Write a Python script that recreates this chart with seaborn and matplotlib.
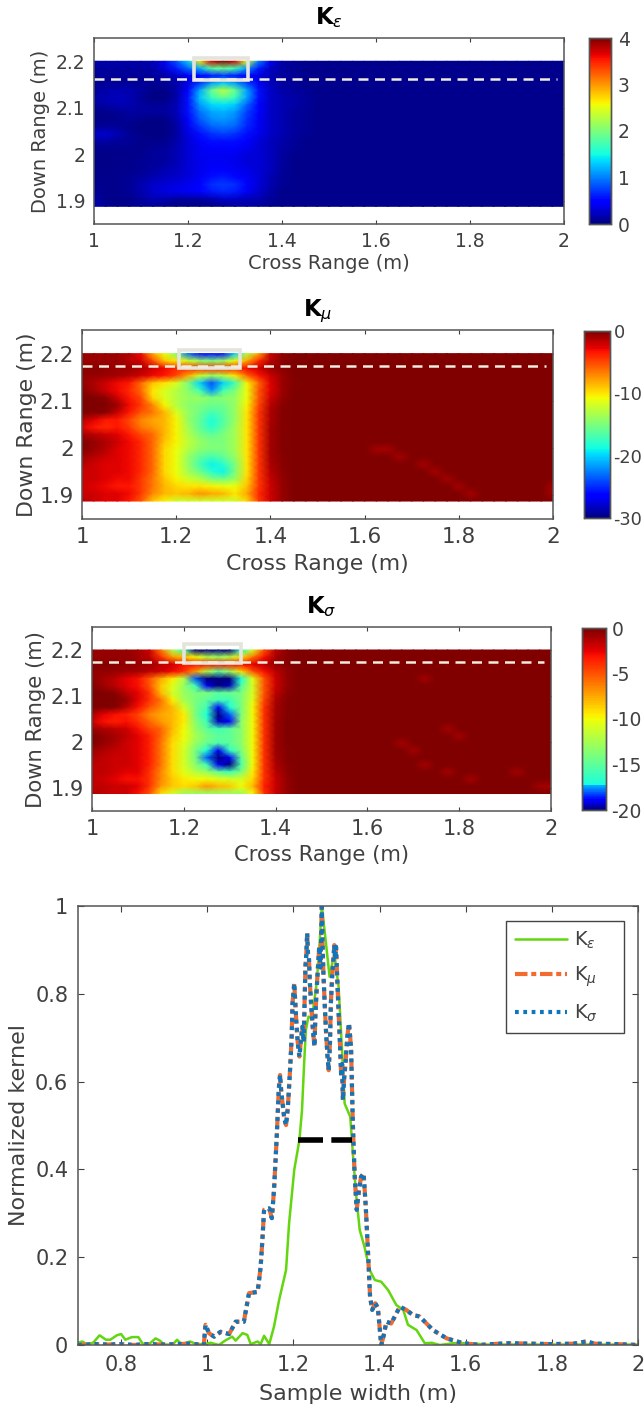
import numpy as np
import seaborn as sns
import matplotlib
matplotlib.use('Agg')
import matplotlib.pyplot as plt
from matplotlib.colors import ListedColormap
from matplotlib.patches import Rectangle
from matplotlib.transforms import Affine2D

sns.set_style('white')

# grid: cross range 1.0 to 1.5 by 0.025, down range 2.2 to 1.888 in 21 rows
K_eps_left = [
    [.15,.15,.15,.15,.15,.2,.4,.8,1.3,2.7,3.7,4.0,3.7,2.5,1.0,.4,.15,.08,.05,.05,.05],
    [.12,.12,.12,.12,.12,.15,.3,.6,.9,1.2,1.8,1.9,1.7,1.1,.6,.25,.12,.08,.05,.05,.05],
    [.08,.08,.08,.08,.08,.1,.15,.25,.4,.5,.6,.7,.6,.5,.35,.2,.12,.08,.05,.05,.05],
    [.08,.08,.08,.08,.08,.08,.08,.15,.35,.7,1.1,1.3,1.1,.75,.4,.22,.12,.08,.05,.05,.05],
    [.1,.15,.18,.18,.12,.04,.04,.15,.45,1.15,1.9,2.3,1.9,1.15,.55,.25,.15,.12,.08,.05,.05],
    [.15,.2,.22,.18,.08,.03,.03,.15,.55,1.25,1.7,1.9,1.7,1.15,.55,.25,.18,.15,.1,.06,.05],
    [.12,.15,.18,.18,.12,.08,.08,.2,.55,1.1,1.35,1.4,1.3,.9,.45,.25,.18,.15,.1,.06,.05],
    [.04,.05,.08,.12,.12,.12,.12,.2,.55,.95,1.15,1.2,1.1,.75,.45,.25,.18,.12,.08,.05,.05],
    [.04,.04,.05,.08,.05,.03,.04,.15,.45,.85,1.05,1.1,1.0,.7,.42,.25,.18,.12,.08,.05,.05],
    [.08,.1,.08,.05,.03,.03,.03,.12,.4,.7,.9,.95,.9,.65,.42,.25,.18,.12,.08,.05,.05],
    [.25,.28,.18,.08,.04,.03,.03,.12,.35,.55,.7,.75,.7,.55,.38,.25,.18,.12,.08,.05,.05],
    [.12,.15,.1,.08,.05,.04,.06,.15,.3,.45,.55,.55,.55,.45,.32,.22,.15,.1,.06,.05,.05],
    [.05,.05,.05,.05,.05,.08,.1,.18,.3,.4,.45,.45,.45,.38,.3,.22,.14,.08,.05,.05,.05],
    [.04,.04,.05,.05,.05,.1,.12,.18,.3,.4,.4,.4,.4,.32,.3,.22,.12,.06,.05,.05,.05],
    [.04,.04,.05,.05,.08,.1,.12,.2,.3,.38,.42,.42,.38,.32,.3,.22,.12,.05,.05,.05,.05],
    [.04,.04,.05,.05,.08,.12,.18,.22,.3,.38,.45,.48,.42,.36,.3,.22,.1,.05,.05,.05,.05],
    [.05,.05,.05,.08,.12,.18,.22,.28,.32,.42,.55,.6,.52,.42,.32,.18,.08,.05,.05,.05,.05],
    [.05,.05,.05,.08,.18,.26,.3,.34,.4,.5,.68,.72,.68,.5,.32,.18,.08,.05,.05,.05,.05],
    [.08,.05,.05,.08,.16,.28,.34,.38,.42,.5,.58,.65,.6,.42,.28,.14,.06,.05,.05,.05,.05],
    [.15,.05,.04,.05,.12,.18,.18,.12,.12,.12,.18,.25,.25,.2,.18,.1,.05,.05,.05,.05,.05],
    [.2,.08,.04,.05,.08,.08,.06,.03,.02,.02,.03,.06,.1,.14,.1,.06,.05,.05,.05,.05,.05],
]
K_mu_left = [
    [-.8,-.8,-.8,-.8,-1.5,-3,-8,-11,-15,-23,-26,-26,-26,-20,-13,-8,-2,-.4,0,0,0],
    [-.8,-.8,-.8,-.8,-1.5,-2,-5,-9,-10,-12,-14,-15,-14,-11,-8,-4,-1.5,-.4,0,0,0],
    [-.3,-.3,-.5,-.8,-.8,-1.2,-2,-3,-4,-4,-4,-4,-4,-4,-3,-2,-.8,-.3,0,0,0],
    [-.6,-.6,-.8,-1,-1.5,-2,-3,-3.5,-5,-8,-12,-14,-13,-10,-6,-3.5,-2,-.8,-.1,0,0],
    [-.6,-1.2,-2,-3,-3.5,-6,-9,-10,-11.5,-15,-20,-24,-20,-17,-10.5,-6,-2.5,-.8,-.2,0,0],
    [-.3,-1,-2,-3,-4,-6,-10,-11.5,-13,-14.5,-17,-22,-17,-15,-11,-5.5,-2.5,-.8,-.1,0,0],
    [0,-.1,-.4,-2,-3.5,-5,-9.5,-11.5,-13,-14,-14,-15,-14.5,-14,-11,-5.5,-2,-.6,0,0,0],
    [0,0,-.1,-.8,-3,-4.5,-7,-10.5,-13,-14.5,-15,-15.5,-15.5,-14,-10.5,-5,-1.5,-.3,0,0,0],
    [0,0,-.3,-1.8,-3.5,-5.5,-6.5,-8.5,-11.5,-14,-15.5,-17,-16,-14,-10,-4.5,-1.2,-.2,0,0,0],
    [-1.5,-2.5,-3.5,-3.5,-5,-7,-8,-8.5,-10.5,-14,-16,-18.5,-16.5,-14,-10,-4.5,-1.2,-.2,0,0,0],
    [-2.5,-3.5,-4,-3.5,-4.5,-6.5,-7.5,-8.5,-10.5,-13.5,-16,-18,-16,-13.5,-10,-4.5,-1,-.2,0,0,0],
    [-1,-1.5,-2,-2.5,-3.5,-5,-6,-8.5,-10.5,-13,-15,-16,-15,-13.5,-10,-4.5,-1,-.2,0,0,0],
    [-.2,-.6,-1.2,-2,-3,-4,-6,-9,-10.5,-12.5,-14,-15,-15,-13.5,-10,-4.5,-1,-.2,0,0,0],
    [-.2,-.8,-1.5,-2.5,-3,-4,-6,-9.5,-11,-13,-14.5,-15,-15,-13.5,-10,-4.5,-1,-.2,0,0,0],
    [-1,-1.5,-2,-2.5,-3,-4,-6,-9.5,-11,-14,-16,-17,-16,-14,-10,-4.5,-1,-.3,0,0,0],
    [-1.5,-2,-2.5,-2.5,-3,-4,-6,-9.5,-11,-14,-17,-19,-18,-15,-10,-4.5,-1.2,-.3,0,0,0],
    [-2,-2,-2.5,-2.5,-3,-4,-6,-9.5,-11,-13.5,-15.5,-18,-19,-15,-10,-4.5,-1.5,-.4,0,0,0],
    [-2,-2,-2.5,-3,-3,-4.5,-6.5,-9,-10.5,-12,-13,-15,-15.5,-14,-9.5,-4.5,-1.8,-.5,0,0,0],
    [-2,-2.5,-3,-3.5,-3.5,-4.5,-6.5,-8.5,-9.5,-10,-10,-10.5,-11,-11,-9,-4.5,-2,-.6,0,0,0],
    [-2,-2,-2.5,-2.5,-3,-4.5,-7,-8.5,-9,-8.5,-7.5,-8,-8.5,-10,-8,-4,-2,-.6,0,0,0],
    [-1.5,-2,-2.5,-2.5,-3.5,-5.5,-9,-10.5,-12,-12,-12,-12,-12,-12,-9.5,-4.5,-2,-.6,0,0,0],
]
K_sigma_left = [
    [-.6,-.6,-.6,-.6,-1,-2,-6,-12,-16,-20,-20,-20,-20,-17,-11,-5,-1.5,-.3,0,0,0],
    [-.6,-.6,-.6,-.6,-1,-1.5,-4,-7,-8,-10,-12,-13,-12,-9,-6,-3,-1,-.3,0,0,0],
    [-.2,-.2,-.3,-.5,-.6,-.8,-1.5,-2,-3,-3,-3,-3,-3,-3,-2.5,-1.5,-.6,-.2,0,0,0],
    [-.5,-.5,-.6,-.8,-1,-1.5,-2,-2.8,-4,-7,-12,-15,-13,-9,-5,-3,-1.5,-.5,0,0,0],
    [-.5,-1,-1.5,-2.5,-3,-5,-7.5,-9.5,-12,-18,-20,-20,-20,-17,-10.5,-5,-2,-.5,-.1,0,0],
    [-.2,-.8,-1.5,-2.5,-3,-5,-8.5,-10.5,-13,-16,-19,-20,-19.5,-15.5,-11,-5,-2,-.5,0,0,0],
    [0,-.1,-.3,-1.5,-2.5,-4,-8,-11,-13,-14,-14,-15,-14.5,-14,-11,-5,-1.5,-.4,0,0,0],
    [0,0,-.1,-.6,-2.5,-4,-6,-9.5,-12.5,-14,-15,-16,-16,-14,-10.5,-4.5,-1.2,-.2,0,0,0],
    [0,0,-.2,-1.5,-3,-5,-6.5,-8,-11,-14,-16,-19,-17,-14,-10,-4,-1,-.2,0,0,0],
    [-1.2,-2.5,-3,-3.5,-4.5,-6.5,-7.5,-8,-9.5,-14,-17,-20,-18,-14,-10,-4,-1,-.2,0,0,0],
    [-2,-3,-3.5,-3,-4,-5.5,-7,-8,-9.5,-13.5,-16,-19.5,-19,-13.5,-10,-4,-.8,-.1,0,0,0],
    [-.8,-1.2,-1.6,-2,-3,-4.5,-5.5,-8,-10,-13,-15,-16,-15,-13.5,-10,-4,-.8,-.1,0,0,0],
    [-.1,-.5,-1,-1.6,-2.5,-3.5,-5.5,-8.5,-10,-12.5,-14,-15,-15,-13.5,-10,-4,-.8,-.1,0,0,0],
    [-.1,-.6,-1.2,-2,-2.5,-3.5,-6,-9,-10.5,-13,-14.5,-15.5,-15,-13.5,-10,-4,-.8,-.1,0,0,0],
    [-.8,-1.2,-1.6,-2,-2.5,-3.5,-6,-9,-11,-14,-17,-19,-16.5,-14,-10,-4,-.8,-.2,0,0,0],
    [-1.2,-1.6,-2,-2,-2.5,-3.5,-6,-9,-11,-14,-18,-20,-19,-15,-10,-4,-1,-.2,0,0,0],
    [-1.6,-1.6,-2,-2,-2.5,-3.5,-6,-9,-11,-13.5,-16,-19,-20,-15.5,-10,-4,-1.2,-.3,0,0,0],
    [-1.6,-1.6,-2,-2.5,-2.5,-4,-6.5,-9,-10.5,-12,-13,-15,-16,-14,-9.5,-4,-1.5,-.4,0,0,0],
    [-1.6,-2,-2.5,-3,-3,-4,-6.5,-8.5,-9.5,-10,-10,-10.5,-11,-11,-9,-4,-1.8,-.5,0,0,0],
    [-1.6,-1.6,-2,-2,-2.5,-4,-7,-8.5,-9,-8.5,-7,-8,-8.5,-10,-8,-3.5,-1.8,-.5,0,0,0],
    [-1.2,-1.6,-2,-2,-3,-5,-9,-11,-13,-13,-13,-13,-13,-13,-10,-4,-1.8,-.5,0,0,0],
]

# line plot
x_eps = [.70,.71,.72,.735,.75,.765,.775,.79,.80,.81,.825,.84,.85,.865,.88,.89,.90,.92,.93,.94,.96,.975,
         .992,1.008,1.027,1.043,1.058,1.066,1.082,1.093,1.101,1.117,1.124,1.132,1.144,1.155,1.167,1.183,
         1.190,1.202,1.214,1.220,1.225,1.229,1.235,1.243,1.253,1.259,1.266,1.274,1.284,1.295,1.305,1.315,
         1.319,1.332,1.338,1.346,1.354,1.365,1.377,1.389,1.404,1.420,1.439,1.455,1.466,1.486,1.505,1.521,
         1.540,1.571,1.610,1.65,2.0]
y_eps = [.005,.008,.002,.005,.022,.012,.012,.022,.025,.012,.018,.018,.003,.002,.015,.01,.001,.001,.012,.002,.008,.002,
         .002,.005,0,.011,.019,.010,.027,.023,.002,.008,.002,.021,.002,.042,.103,.171,
         .277,.399,.467,.535,.642,.718,.748,.744,.816,.885,1,.930,.839,.892,.816,.634,
         .550,.520,.437,.338,.262,.224,.171,.148,.144,.125,.091,.080,.046,.034,.004,.005,
         0,.004,.004,.001,.001]

x_mu = [.70,.74,.77,.80,.83,.86,.90,.93,.96,.992,.996,1.004,1.016,1.031,1.051,1.066,1.085,1.097,1.117,1.124,1.128,
        1.132,1.144,1.150,1.155,1.161,1.166,1.169,1.172,1.175,1.179,1.183,1.187,1.190,1.193,1.196,1.198,1.200,1.202,1.205,1.207,
        1.210,1.214,1.218,1.221,1.224,1.226,1.228,1.230,1.232,1.234,1.236,1.238,1.241,1.243,1.246,1.249,1.251,1.254,1.257,1.260,
        1.263,1.266,1.268,1.270,1.273,1.276,1.279,1.282,1.285,1.287,1.290,1.293,1.295,1.297,1.299,1.302,1.305,1.308,1.311,1.313,
        1.315,1.318,1.321,1.325,1.329,1.332,1.334,1.338,1.342,1.347,1.352,1.357,1.363,1.368,1.373,1.378,1.383,1.390,1.396,1.404,1.409,
        1.416,1.427,1.447,1.462,1.478,1.493,1.524,1.556,1.594,1.633,1.66,1.70,1.75,1.80,1.85,1.88,1.90,1.95,2.0]
y_mu = [0,.002,.001,.002,0,.002,.001,.002,.003,0,.046,.027,.019,.030,.025,.053,.053,.118,.121,.178,.239,
        .308,.311,.289,.353,.467,.581,.615,.575,.550,.515,.501,.540,.588,.640,.702,.778,.800,.824,.770,.733,
        .690,.657,.700,.725,.690,.780,.862,.890,.938,.890,.885,.830,.778,.750,.710,.680,.750,.809,.860,.907,
        .860,.998,.900,.839,.770,.710,.660,.626,.690,.778,.840,.880,.911,.880,.907,.830,.756,.690,.611,.640,
        .558,.610,.642,.700,.733,.700,.672,.505,.391,.308,.350,.383,.391,.315,.216,.110,.080,.095,.085,0,.019,
        .053,.049,.087,.080,.068,.065,.034,.015,.004,0,.002,.004,.003,.002,.003,.008,.003,.002,0]
y_sigma = y_mu

x_fwhm = [1.21, 1.335]
y_fwhm = [.467, .467]

W, H = 644, 1405
fig = plt.figure(figsize=(W / 100, H / 100), dpi=100)

def box(l, t, r, b):
    return [l / W, 1 - b / H, (r - l) / W, (b - t) / H]

jet = plt.get_cmap('jet')
fsig = np.linspace(0, 1, 256)
sigma_cmap = ListedColormap([jet(f / .135 * .3) if f < .135 else jet(.38 + .62 * (f - .135) / .865) for f in fsig])

def streaks(bg, cells):
    right = np.full((21, 20), bg)
    for r, c, v in cells:
        right[r, c] = v
    return right

panels = [
    dict(left=K_eps_left, right=streaks(.05, []), vmin=0, vmax=4, cmap='jet', title=r'$\mathbf{K}_{\epsilon}$',
         ax=(94, 38, 564, 224), cax=(589, 38, 611, 224), cticks=[0, 1, 2, 3, 4], clabels=['0', '1', '2', '3', '4'],
         dash=2.161, rect=(1.212, 2.16, 0.115, 0.048), fs=14, tfs=13.5, cfs=13.5, cpad=5, xpad=2, ypad=4),
    dict(left=K_mu_left, right=streaks(0, [(13, 4, -1.5), (13, 5, -1.5), (14, 6, -1.5), (15, 8, -1.4), (16, 9, -1.5),
                                           (17, 10, -1.5), (18, 11, -1.4), (19, 12, -1), (18, 19, -1.5), (19, 19, -1.5)]),
         vmin=-30, vmax=0, cmap='jet', title=r'$\mathbf{K}_{\mu}$',
         ax=(82, 330, 553, 519), cax=(584, 331, 610, 518), cticks=[-30, -20, -10, 0], clabels=['-30', '-20', '-10', '0'],
         dash=2.174, rect=(1.205, 2.17, 0.13, 0.037), fs=15.8, tfs=15.5, cfs=12.8, cpad=2.5, xpad=5, ypad=2),
    dict(left=K_sigma_left, right=streaks(0, [(4, 8, -1), (4, 9, -.9), (11, 10, -1), (12, 11, -1), (13, 6, -1), (14, 7, -1),
                                              (16, 8, -1), (17, 10, -1), (18, 12, -1), (17, 16, -1), (19, 18, -1.2), (19, 19, -1.2)]),
         vmin=-20, vmax=0, cmap=sigma_cmap, title=r'$\mathbf{K}_{\sigma}$',
         ax=(92, 627, 551, 811), cax=(582, 628, 606, 810), cticks=[-20, -15, -10, -5, 0], clabels=['-20', '-15', '-10', '-5', '0'],
         dash=2.174, rect=(1.2, 2.172, 0.125, 0.04), fs=15.2, tfs=15, cfs=13.5, cpad=4, xpad=4, ypad=3),
]

ink = '#404040'
for p in panels:
    ax = fig.add_axes(box(*p['ax']))
    cax = fig.add_axes(box(*p['cax']))
    grid = np.hstack([np.array(p['left'], dtype=float), p['right']])
    sns.heatmap(grid, ax=ax, cbar_ax=cax, cmap=p['cmap'], vmin=p['vmin'], vmax=p['vmax'],
                xticklabels=False, yticklabels=False, shading='gouraud')
    # heatmap works in cell numbers, so move the mesh onto metres
    mesh = ax.collections[0]
    mesh.set_transform(Affine2D().scale(.025, -.312 / 20).translate(1, 2.2) + ax.transData)
    ax.set_xlim(1, 2)
    ax.set_ylim(1.85, 2.25)
    ax.set_xticks([1, 1.2, 1.4, 1.6, 1.8, 2])
    ax.set_xticklabels(['1', '1.2', '1.4', '1.6', '1.8', '2'])
    ax.set_yticks([1.9, 2, 2.1, 2.2])
    ax.set_yticklabels(['1.9', '2', '2.1', '2.2'], rotation=0)
    ax.tick_params(direction='in', length=3, width=.8, colors=ink, labelsize=p['tfs'], top=True, right=True, left=True, bottom=True, pad=6)
    ax.set_xlabel('Cross Range (m)', fontsize=p['fs'], color=ink, labelpad=p['xpad'])
    ax.set_ylabel('Down Range (m)', fontsize=p['fs'], color=ink, labelpad=p['ypad'])
    ax.set_title(p['title'], fontsize=16.5, color='black', pad=10)
    for s in ax.spines.values():
        s.set_visible(True)
        s.set_color('#555555')
        s.set_linewidth(1.1)
    ax.plot([1.0, 1.985], [p['dash'], p['dash']], color='#f0ece0', lw=1.8, ls=(0, (4, 2.6)))
    rx, ry, rw, rh = p['rect']
    ax.add_patch(Rectangle((rx, ry), rw, rh, fill=False, ec='#e4e4dc', lw=2.6, clip_on=False))
    cax.set_yticks(p['cticks'])
    cax.set_yticklabels(p['clabels'])
    cax.tick_params(direction='in', length=2, width=.7, colors=ink, labelsize=p['cfs'], right=True, left=False, pad=p['cpad'])
    for s in cax.spines.values():
        s.set_visible(True)
        s.set_color('#555555')
        s.set_linewidth(1)

ax = fig.add_axes(box(78, 906, 638, 1345))
sns.lineplot(x=x_eps, y=y_eps, ax=ax, color='#62d60e', lw=1.8, label=r'K$_{\epsilon}$', estimator=None, sort=False)
sns.lineplot(x=x_mu, y=y_mu, ax=ax, color='#f26a2e', lw=3, ls=(0, (3, .9, 1.2, .9)), label=r'K$_{\mu}$', estimator=None, sort=False)
sns.lineplot(x=x_mu, y=y_sigma, ax=ax, color='#0e76bd', lw=3, ls=(0, (.9, 1.1)), label=r'K$_{\sigma}$', estimator=None, sort=False)
ax.plot(x_fwhm, y_fwhm, color='black', lw=4, ls=(0, (4.5, 1.5)))
ax.set_xlim(.7, 2)
ax.set_ylim(0, 1)
ax.set_xticks([.8, 1, 1.2, 1.4, 1.6, 1.8, 2])
ax.set_xticklabels(['0.8', '1', '1.2', '1.4', '1.6', '1.8', '2'])
ax.set_yticks([0, .2, .4, .6, .8, 1])
ax.set_yticklabels(['0', '0.2', '0.4', '0.6', '0.8', '1'])
ax.tick_params(direction='in', length=4, width=.8, colors=ink, labelsize=15, top=True, right=True, left=True, bottom=True, pad=7)
ax.set_xlabel('Sample width (m)', fontsize=16, color=ink, labelpad=7)
ax.set_ylabel('Normalized kernel', fontsize=16, color=ink, labelpad=4)
for s in ax.spines.values():
    s.set_visible(True)
    s.set_color('#555555')
    s.set_linewidth(1.1)
ax.legend(loc='upper left', bbox_to_anchor=((506 - 78) / 560, 1 - (921 - 906 + 101) / 439, 118 / 560, 101 / 439), mode='expand',
          fontsize=14, frameon=True, fancybox=False, edgecolor='#444444', framealpha=1, borderaxespad=0,
          handlelength=2.7, labelspacing=.7, handletextpad=.35, borderpad=.45, labelcolor=ink)

plt.savefig('out.png', dpi=100)
